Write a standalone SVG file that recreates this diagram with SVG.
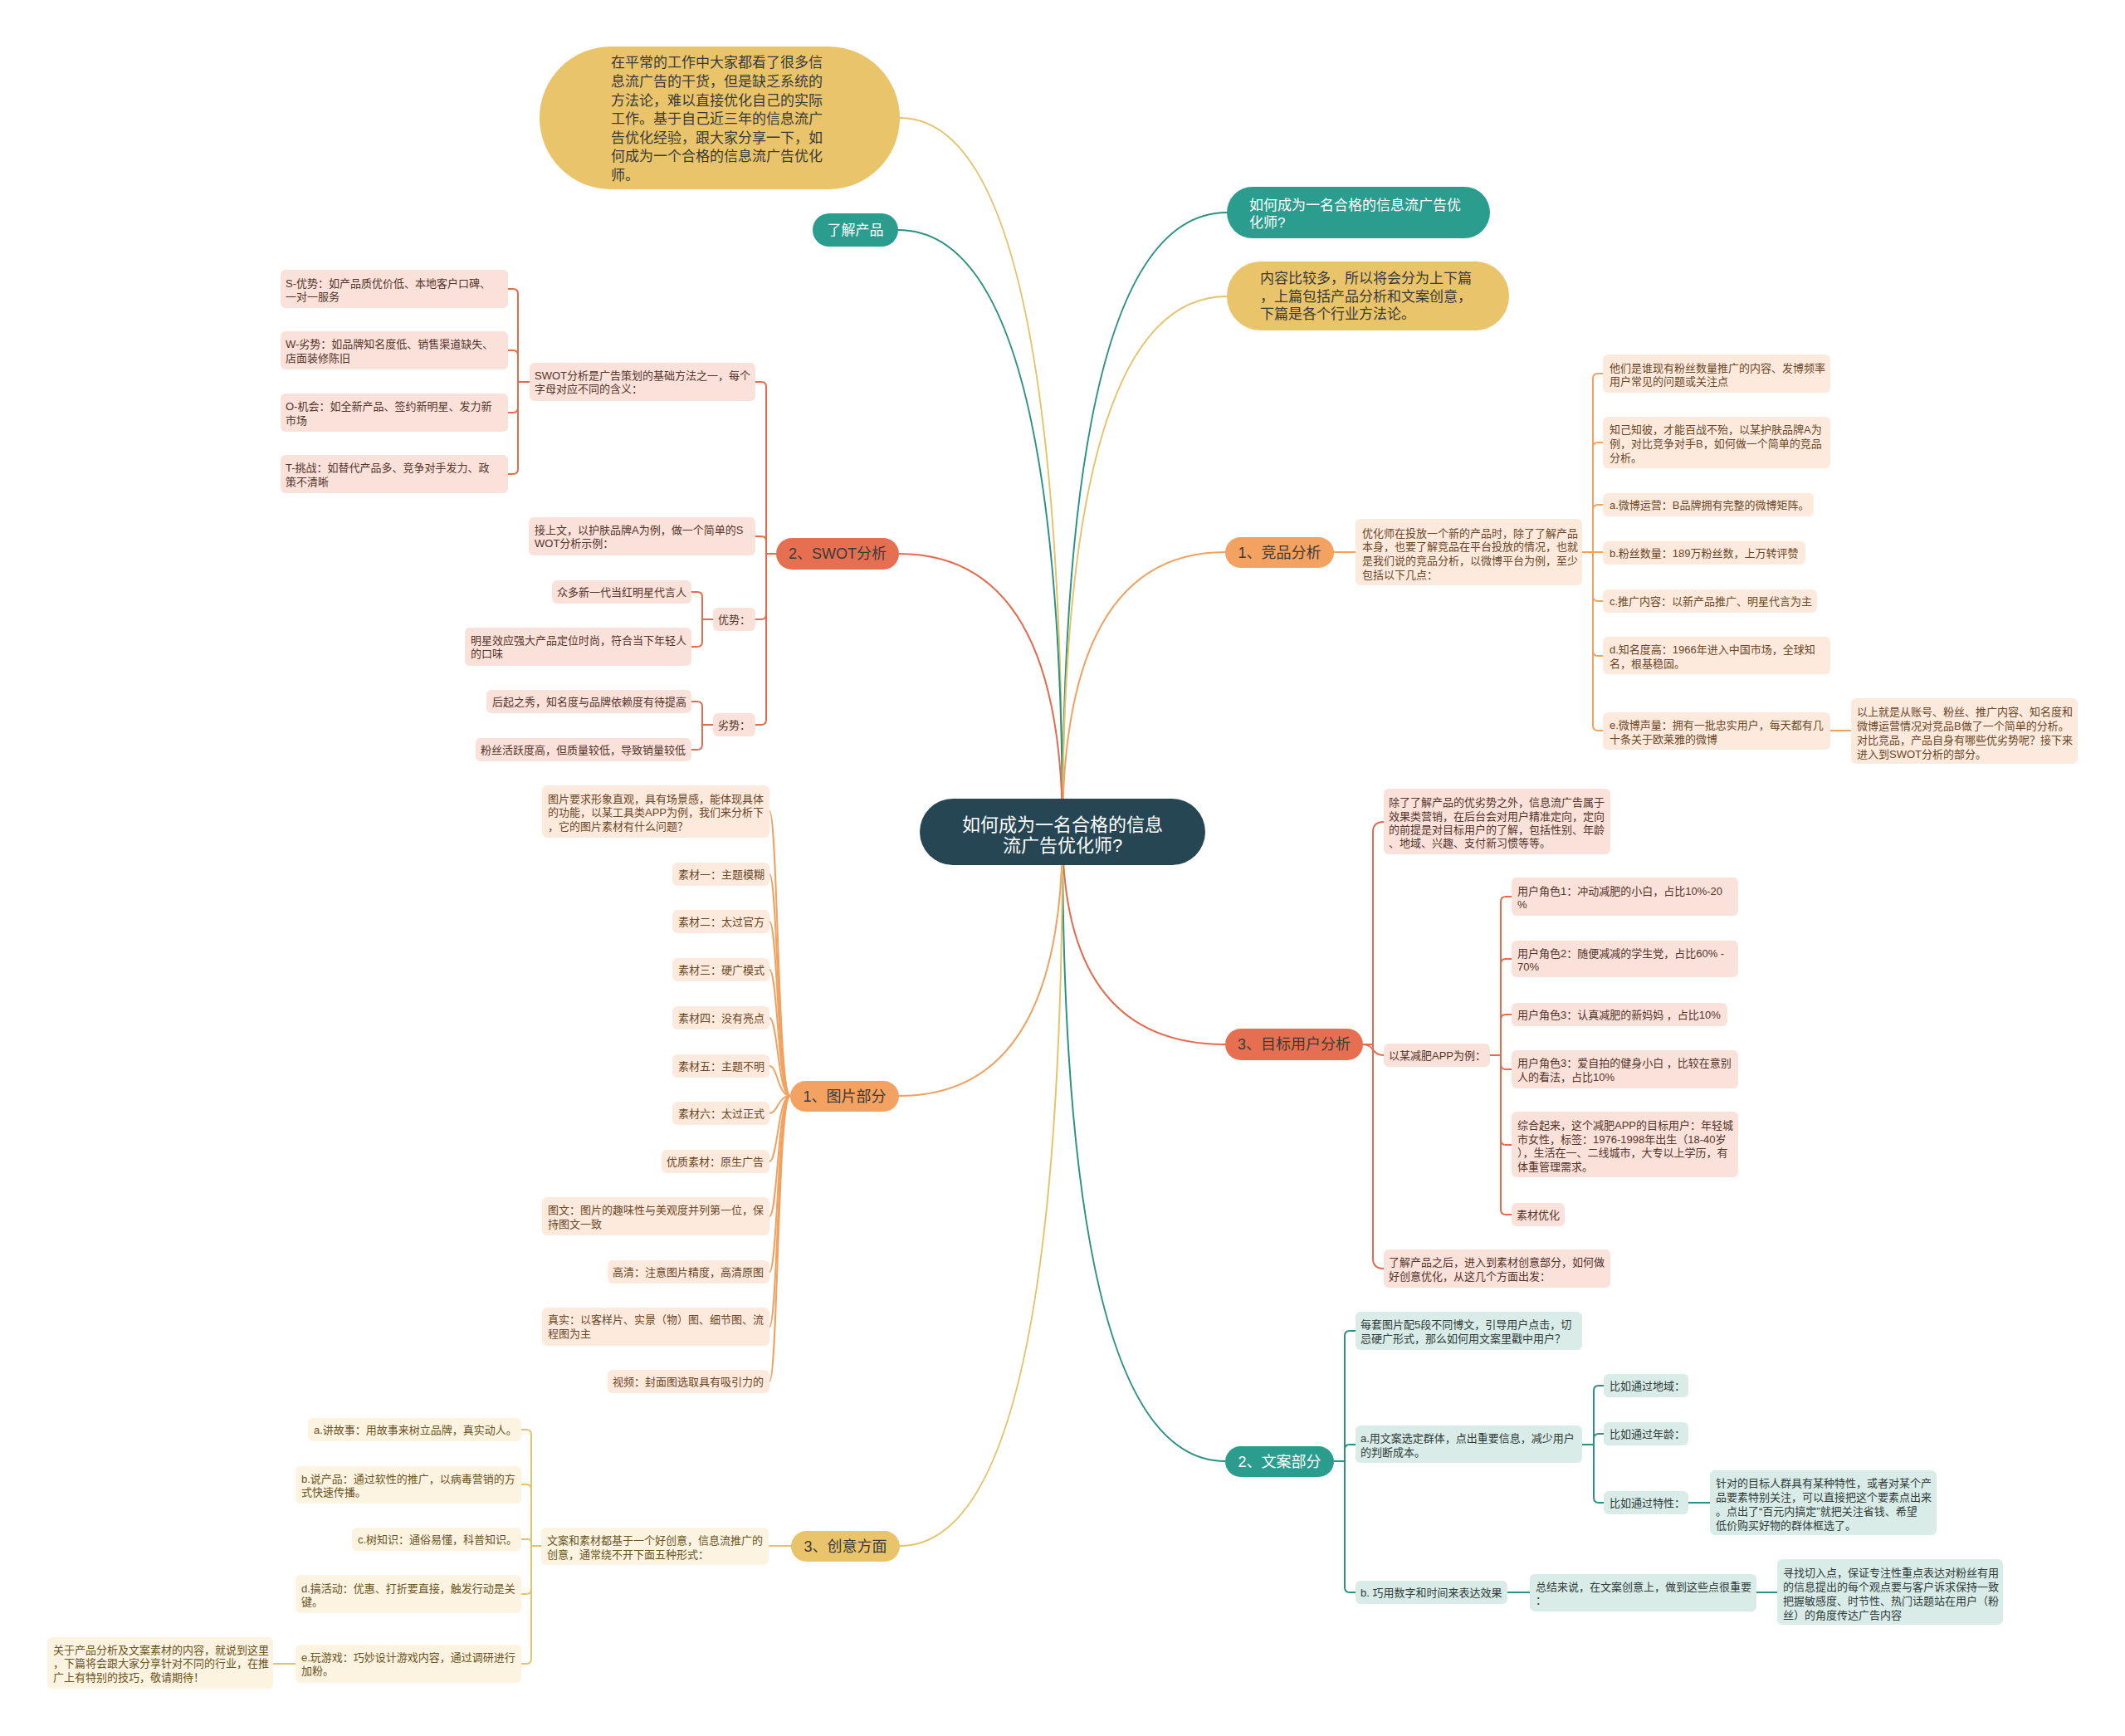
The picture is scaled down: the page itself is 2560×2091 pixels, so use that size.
<svg xmlns="http://www.w3.org/2000/svg" width="2560" height="2091" viewBox="0 0 2560 2091">
<style>
text{font-family:"Liberation Sans","Noto Sans CJK SC",sans-serif;dominant-baseline:central}
.s13{font-size:13px}
.s17{font-size:17px}
.s18{font-size:18px}
.s22{font-size:22px}
.mid{text-anchor:middle}
.ln{fill:none;stroke-width:2;stroke-linecap:round;stroke-linejoin:round}
.lc{stroke:#e36c4f}.lo{stroke:#f0a261}.ly{stroke:#e6c36a}.lt{stroke:#2a9283}
.sc{fill:#fae2db}.so{fill:#fdeadd}.sy{fill:#fcf3e0}.st{fill:#d9ece8}
.tc{fill:#55342a}.to{fill:#6b4727}.ty{fill:#6a5424}.tt{fill:#303b39}
.dk{fill:#3a3a3a}.wh{fill:#ffffff}
.mc{fill:#e76f51}.mo{fill:#f4a261}.my{fill:#e9c46a}.mt{fill:#2a9d8f}
</style>
<rect width="2560" height="2091" fill="#ffffff"/>
<g id="connectors">
<path class="ln ly" d="M1280 1002 Q1280 142 1084 142"/>
<path class="ln lt" d="M1280 1002 Q1280 277 1082 277"/>
<path class="ln lt" d="M1280 1002 Q1280 256 1478 256"/>
<path class="ln ly" d="M1280 1002 Q1280 357 1478 357"/>
<path class="ln lc" d="M1280 1002 Q1280 667 1083 667"/>
<path class="ln lo" d="M1280 1002 Q1280 665 1476 665"/>
<path class="ln lc" d="M1280 1002 Q1280 1258 1476 1258"/>
<path class="ln lo" d="M1280 1002 Q1280 1320 1083 1320"/>
<path class="ln lt" d="M1280 1002 Q1280 1760 1476 1760"/>
<path class="ln ly" d="M1280 1002 Q1280 1862 1084 1862"/>
<g class="ln lc">
<path d="M935 667 H923 V466 Q923 460 917 460 H910"/>
<path d="M935 667 H923 V652 Q923 646 917 646 H910"/>
<path d="M935 667 H923 V740 Q923 746 917 746 H910"/>
<path d="M935 667 H923 V867 Q923 873 917 873 H910"/>
<path d="M638 460 H624 V354 Q624 348 618 348 H612"/>
<path d="M638 460 H624 V428 Q624 422 618 422 H612"/>
<path d="M638 460 H624 V491 Q624 497 618 497 H612"/>
<path d="M638 460 H624 V565 Q624 571 618 571 H612"/>
<path d="M859 746 H846 V719 Q846 713 840 713 H833"/>
<path d="M859 746 H846 V773 Q846 779 840 779 H833"/>
<path d="M859 873 H846 V851 Q846 845 840 845 H833"/>
<path d="M859 873 H846 V897 Q846 903 840 903 H833"/>
<path d="M1642 1258 H1654 V1002 Q1654 990 1667 990"/>
<path d="M1642 1258 C1656 1258 1652 1271 1667 1271"/>
<path d="M1642 1258 H1654 V1516 Q1654 1528 1667 1528"/>
<path d="M1795 1271 H1808 V1086 Q1808 1080 1814 1080 H1821"/>
<path d="M1795 1271 H1808 V1161 Q1808 1155 1814 1155 H1821"/>
<path d="M1795 1271 H1808 V1228 Q1808 1222 1814 1222 H1821"/>
<path d="M1795 1271 H1808 V1282 Q1808 1288 1814 1288 H1821"/>
<path d="M1795 1271 H1808 V1373 Q1808 1379 1814 1379 H1821"/>
<path d="M1795 1271 H1808 V1457 Q1808 1463 1814 1463 H1821"/>
</g>
<g class="ln lo">
<path d="M952 1320 C937 1320 937 977 927 977"/>
<path d="M952 1320 C937 1320 937 1053 927 1053"/>
<path d="M952 1320 C937 1320 937 1110 927 1110"/>
<path d="M952 1320 C937 1320 937 1168 927 1168"/>
<path d="M952 1320 C937 1320 937 1226 927 1226"/>
<path d="M952 1320 C937 1320 937 1284 927 1284"/>
<path d="M952 1320 C937 1320 937 1341 927 1341"/>
<path d="M952 1320 C937 1320 937 1399 927 1399"/>
<path d="M952 1320 C937 1320 937 1465 927 1465"/>
<path d="M952 1320 C937 1320 937 1532 927 1532"/>
<path d="M952 1320 C937 1320 937 1598 927 1598"/>
<path d="M952 1320 C937 1320 937 1664 927 1664"/>
<path d="M1607 665 H1633"/>
<path d="M1906 665 H1919 V456 Q1919 450 1925 450 H1931"/>
<path d="M1906 665 H1919 V539 Q1919 533 1925 533 H1931"/>
<path d="M1906 665 H1919 V614 Q1919 608 1925 608 H1931"/>
<path d="M1906 665 H1931"/>
<path d="M1906 665 H1919 V718 Q1919 724 1925 724 H1931"/>
<path d="M1906 665 H1919 V784 Q1919 790 1925 790 H1931"/>
<path d="M1906 665 H1919 V874 Q1919 880 1925 880 H1931"/>
<path d="M2205 880 H2230"/>
</g>
<g class="ln ly">
<path d="M953 1862 H926"/>
<path d="M652 1862 H640 V1728 Q640 1722 634 1722 H628"/>
<path d="M652 1862 H640 V1794 Q640 1788 634 1788 H628"/>
<path d="M652 1862 H640 V1858 Q640 1854 636 1854 H628"/>
<path d="M652 1862 H640 V1914 Q640 1920 634 1920 H628"/>
<path d="M652 1862 H640 V1998 Q640 2004 634 2004 H628"/>
<path d="M356 2004 H329"/>
</g>
<g class="ln lt">
<path d="M1607 1760 H1620 V1609 Q1620 1603 1626 1603 H1633"/>
<path d="M1607 1760 H1620 V1746 Q1620 1740 1626 1740 H1633"/>
<path d="M1607 1760 H1620 V1912 Q1620 1918 1626 1918 H1633"/>
<path d="M1906 1740 H1920 V1675 Q1920 1669 1926 1669 H1932"/>
<path d="M1906 1740 H1920 V1733 Q1920 1727 1926 1727 H1932"/>
<path d="M1906 1740 H1920 V1804 Q1920 1810 1926 1810 H1932"/>
<path d="M2034 1810 H2060"/>
<path d="M1816 1918 H1843"/>
<path d="M2116 1918 H2141"/>
</g>
</g>

<g id="root"><rect x="1108" y="962" width="344" height="80" rx="40" fill="#264653"/>
<text class="s22 wh mid"><tspan x="1280" y="993">如何成为一名合格的信息</tspan><tspan x="1280" y="1018">流广告优化师?</tspan></text></g>

<g id="intro"><rect x="650" y="56" width="434" height="172" rx="86" class="my"/>
<text class="s17 dk"><tspan x="736" y="75">在平常的工作中大家都看了很多信</tspan><tspan x="736" y="98">息流广告的干货，但是缺乏系统的</tspan><tspan x="736" y="121">方法论，难以直接优化自己的实际</tspan><tspan x="736" y="143">工作。基于自己近三年的信息流广</tspan><tspan x="736" y="166">告优化经验，跟大家分享一下，如</tspan><tspan x="736" y="188">何成为一个合格的信息流广告优化</tspan><tspan x="736" y="211">师。</tspan></text></g>
<g id="know-product"><rect x="979" y="257" width="103" height="40" rx="20" class="mt"/><text class="s17 wh mid" x="1030.5" y="277">了解产品</text></g>
<g id="title-right"><rect x="1478" y="225" width="317" height="62" rx="31" class="mt"/>
<text class="s17 wh"><tspan x="1505" y="247">如何成为一名合格的信息流广告优</tspan><tspan x="1505" y="268">化师?</tspan></text></g>
<g id="content-note"><rect x="1478" y="315" width="340" height="83" rx="41" class="my"/>
<text class="s17 dk"><tspan x="1518" y="335">内容比较多，所以将会分为上下篇</tspan><tspan x="1518" y="357">，上篇包括产品分析和文案创意，</tspan><tspan x="1518" y="378">下篇是各个行业方法论。</tspan></text></g>

<g id="b-swot"><rect x="935" y="648" width="148" height="38" rx="19" class="mc"/><text class="s18 dk mid" x="1009" y="667">2、SWOT分析</text></g>
<g id="b-image"><rect x="952" y="1302" width="131" height="37" rx="18.5" class="mo"/><text class="s18 dk mid" x="1017.5" y="1320.5">1、图片部分</text></g>
<g id="b-idea"><rect x="953" y="1844" width="131" height="37" rx="18.5" class="my"/><text class="s18 dk mid" x="1018.5" y="1862.5">3、创意方面</text></g>
<g id="b-compete"><rect x="1476" y="647" width="131" height="37" rx="18.5" class="mo"/><text class="s18 dk mid" x="1541.5" y="665.5">1、竞品分析</text></g>
<g id="b-user"><rect x="1476" y="1239" width="166" height="38" rx="19" class="mc"/><text class="s18 dk mid" x="1559" y="1258">3、目标用户分析</text></g>
<g id="b-copy"><rect x="1476" y="1742" width="131" height="37" rx="18.5" class="mt"/><text class="s18 wh mid" x="1541.5" y="1760.5">2、文案部分</text></g>

<g id="swot-s"><rect x="338" y="325" width="274" height="46" rx="6" class="sc"/><text class="s13 tc"><tspan x="344" y="341">S-优势：如产品质优价低、本地客户口碑、</tspan><tspan x="344" y="357">一对一服务</tspan></text></g>
<g id="swot-w"><rect x="338" y="399" width="274" height="46" rx="6" class="sc"/><text class="s13 tc"><tspan x="344" y="414">W-劣势：如品牌知名度低、销售渠道缺失、</tspan><tspan x="344" y="431">店面装修陈旧</tspan></text></g>
<g id="swot-o"><rect x="338" y="474" width="274" height="46" rx="6" class="sc"/><text class="s13 tc"><tspan x="344" y="489">O-机会：如全新产品、签约新明星、发力新</tspan><tspan x="344" y="506">市场</tspan></text></g>
<g id="swot-t"><rect x="338" y="548" width="274" height="46" rx="6" class="sc"/><text class="s13 tc"><tspan x="344" y="563">T-挑战：如替代产品多、竞争对手发力、政</tspan><tspan x="344" y="580">策不清晰</tspan></text></g>
<g id="swot-def"><rect x="638" y="437" width="272" height="46" rx="6" class="sc"/><text class="s13 tc"><tspan x="644" y="452">SWOT分析是广告策划的基础方法之一，每个</tspan><tspan x="644" y="468">字母对应不同的含义：</tspan></text></g>
<g id="swot-example"><rect x="637" y="623" width="273" height="46" rx="6" class="sc"/><text class="s13 tc"><tspan x="644" y="638">接上文，以护肤品牌A为例，做一个简单的S</tspan><tspan x="644" y="654">WOT分析示例：</tspan></text></g>
<g id="swot-adv"><rect x="859" y="732" width="51" height="28" rx="6" class="sc"/><text class="s13 tc" x="865" y="746">优势：</text></g>
<g id="swot-dis"><rect x="859" y="859" width="51" height="28" rx="6" class="sc"/><text class="s13 tc" x="865" y="873">劣势：</text></g>
<g id="adv-1"><rect x="665" y="699" width="168" height="28" rx="6" class="sc"/><text class="s13 tc" x="671" y="713">众多新一代当红明星代言人</text></g>
<g id="adv-2"><rect x="560" y="756" width="273" height="46" rx="6" class="sc"/><text class="s13 tc"><tspan x="567" y="771">明星效应强大产品定位时尚，符合当下年轻人</tspan><tspan x="567" y="787">的口味</tspan></text></g>
<g id="dis-1"><rect x="586" y="831" width="247" height="28" rx="6" class="sc"/><text class="s13 tc" x="593" y="845">后起之秀，知名度与品牌依赖度有待提高</text></g>
<g id="dis-2"><rect x="573" y="889" width="260" height="28" rx="6" class="sc"/><text class="s13 tc" x="579" y="903">粉丝活跃度高，但质量较低，导致销量较低</text></g>

<g id="img-intro"><rect x="653" y="946" width="274" height="63" rx="6" class="so"/><text class="s13 to"><tspan x="660" y="962">图片要求形象直观，具有场景感，能体现具体</tspan><tspan x="660" y="978">的功能，以某工具类APP为例，我们来分析下</tspan><tspan x="660" y="995">，它的图片素材有什么问题？</tspan></text></g>
<g id="img-1"><rect x="810" y="1039" width="117" height="28" rx="6" class="so"/><text class="s13 to" x="817" y="1053">素材一：主题模糊</text></g>
<g id="img-2"><rect x="810" y="1096" width="117" height="28" rx="6" class="so"/><text class="s13 to" x="817" y="1110">素材二：太过官方</text></g>
<g id="img-3"><rect x="810" y="1154" width="117" height="28" rx="6" class="so"/><text class="s13 to" x="817" y="1168">素材三：硬广模式</text></g>
<g id="img-4"><rect x="810" y="1212" width="117" height="28" rx="6" class="so"/><text class="s13 to" x="817" y="1226">素材四：没有亮点</text></g>
<g id="img-5"><rect x="810" y="1270" width="117" height="28" rx="6" class="so"/><text class="s13 to" x="817" y="1284">素材五：主题不明</text></g>
<g id="img-6"><rect x="810" y="1327" width="117" height="28" rx="6" class="so"/><text class="s13 to" x="817" y="1341">素材六：太过正式</text></g>
<g id="img-7"><rect x="797" y="1385" width="130" height="28" rx="6" class="so"/><text class="s13 to" x="803" y="1399">优质素材：原生广告</text></g>
<g id="img-8"><rect x="653" y="1442" width="274" height="46" rx="6" class="so"/><text class="s13 to"><tspan x="660" y="1457">图文：图片的趣味性与美观度并列第一位，保</tspan><tspan x="660" y="1474">持图文一致</tspan></text></g>
<g id="img-9"><rect x="732" y="1518" width="195" height="28" rx="6" class="so"/><text class="s13 to" x="738" y="1532">高清：注意图片精度，高清原图</text></g>
<g id="img-10"><rect x="653" y="1575" width="274" height="46" rx="6" class="so"/><text class="s13 to"><tspan x="660" y="1589">真实：以客样片、实景（物）图、细节图、流</tspan><tspan x="660" y="1606">程图为主</tspan></text></g>
<g id="img-11"><rect x="732" y="1650" width="195" height="28" rx="6" class="so"/><text class="s13 to" x="738" y="1664">视频：封面图选取具有吸引力的</text></g>

<g id="idea-intro"><rect x="652" y="1840" width="274" height="45" rx="6" class="sy"/><text class="s13 ty"><tspan x="659" y="1855">文案和素材都基于一个好创意，信息流推广的</tspan><tspan x="659" y="1872">创意，通常绕不开下面五种形式：</tspan></text></g>
<g id="idea-a"><rect x="371" y="1708" width="257" height="28" rx="6" class="sy"/><text class="s13 ty" x="378" y="1722">a.讲故事：用故事来树立品牌，真实动人。</text></g>
<g id="idea-b"><rect x="356" y="1766" width="272" height="45" rx="6" class="sy"/><text class="s13 ty"><tspan x="363" y="1781">b.说产品：通过软性的推广，以病毒营销的方</tspan><tspan x="363" y="1797">式快速传播。</tspan></text></g>
<g id="idea-c"><rect x="424" y="1840" width="204" height="28" rx="6" class="sy"/><text class="s13 ty" x="431" y="1854">c.树知识：通俗易懂，科普知识。</text></g>
<g id="idea-d"><rect x="356" y="1897" width="272" height="46" rx="6" class="sy"/><text class="s13 ty"><tspan x="363" y="1913">d.搞活动：优惠、打折要直接，触发行动是关</tspan><tspan x="363" y="1929">键。</tspan></text></g>
<g id="idea-e"><rect x="356" y="1981" width="272" height="46" rx="6" class="sy"/><text class="s13 ty"><tspan x="363" y="1996">e.玩游戏：巧妙设计游戏内容，通过调研进行</tspan><tspan x="363" y="2012">加粉。</tspan></text></g>
<g id="idea-end"><rect x="57" y="1972" width="272" height="62" rx="6" class="sy"/><text class="s13 ty"><tspan x="64" y="1987">关于产品分析及文案素材的内容，就说到这里</tspan><tspan x="64" y="2003">，下篇将会跟大家分享针对不同的行业，在推</tspan><tspan x="64" y="2020">广上有特别的技巧，敬请期待！</tspan></text></g>

<g id="cmp-intro"><rect x="1633" y="625" width="273" height="80" rx="6" class="so"/><text class="s13 to"><tspan x="1641" y="642">优化师在投放一个新的产品时，除了了解产品</tspan><tspan x="1641" y="658">本身，也要了解竞品在平台投放的情况，也就</tspan><tspan x="1641" y="675">是我们说的竞品分析，以微博平台为例，至少</tspan><tspan x="1641" y="692">包括以下几点：</tspan></text></g>
<g id="cmp-1"><rect x="1931" y="427" width="274" height="46" rx="6" class="so"/><text class="s13 to"><tspan x="1939" y="443">他们是谁现有粉丝数量推广的内容、发博频率</tspan><tspan x="1939" y="459">用户常见的问题或关注点</tspan></text></g>
<g id="cmp-2"><rect x="1931" y="502" width="274" height="62" rx="6" class="so"/><text class="s13 to"><tspan x="1939" y="517">知己知彼，才能百战不殆，以某护肤品牌A为</tspan><tspan x="1939" y="534">例，对比竞争对手B，如何做一个简单的竞品</tspan><tspan x="1939" y="551">分析。</tspan></text></g>
<g id="cmp-a"><rect x="1931" y="594" width="254" height="28" rx="6" class="so"/><text class="s13 to" x="1939" y="608">a.微博运营：B品牌拥有完整的微博矩阵。</text></g>
<g id="cmp-b"><rect x="1931" y="652" width="244" height="28" rx="6" class="so"/><text class="s13 to" x="1939" y="666">b.粉丝数量：189万粉丝数，上万转评赞</text></g>
<g id="cmp-c"><rect x="1931" y="710" width="258" height="28" rx="6" class="so"/><text class="s13 to" x="1939" y="724">c.推广内容：以新产品推广、明星代言为主</text></g>
<g id="cmp-d"><rect x="1931" y="767" width="274" height="45" rx="6" class="so"/><text class="s13 to"><tspan x="1939" y="782">d.知名度高：1966年进入中国市场，全球知</tspan><tspan x="1939" y="799">名，根基稳固。</tspan></text></g>
<g id="cmp-e"><rect x="1931" y="858" width="274" height="45" rx="6" class="so"/><text class="s13 to"><tspan x="1939" y="873">e.微博声量：拥有一批忠实用户，每天都有几</tspan><tspan x="1939" y="890">十条关于欧莱雅的微博</tspan></text></g>
<g id="cmp-sum"><rect x="2230" y="841" width="273" height="79" rx="6" class="so"/><text class="s13 to"><tspan x="2237" y="857">以上就是从账号、粉丝、推广内容、知名度和</tspan><tspan x="2237" y="874">微博运营情况对竞品B做了一个简单的分析。</tspan><tspan x="2237" y="891">对比竞品，产品自身有哪些优劣势呢？接下来</tspan><tspan x="2237" y="908">进入到SWOT分析的部分。</tspan></text></g>

<g id="usr-intro"><rect x="1667" y="950" width="273" height="79" rx="6" class="sc"/><text class="s13 tc"><tspan x="1673" y="966">除了了解产品的优劣势之外，信息流广告属于</tspan><tspan x="1673" y="983">效果类营销，在后台会对用户精准定向，定向</tspan><tspan x="1673" y="999">的前提是对目标用户的了解，包括性别、年龄</tspan><tspan x="1673" y="1015">、地域、兴趣、支付新习惯等等。</tspan></text></g>
<g id="usr-app"><rect x="1667" y="1257" width="128" height="28" rx="6" class="sc"/><text class="s13 tc" x="1673" y="1271">以某减肥APP为例：</text></g>
<g id="usr-1"><rect x="1821" y="1057" width="273" height="46" rx="6" class="sc"/><text class="s13 tc"><tspan x="1828" y="1073">用户角色1：冲动减肥的小白，占比10%-20</tspan><tspan x="1828" y="1089">%</tspan></text></g>
<g id="usr-2"><rect x="1821" y="1133" width="273" height="44" rx="6" class="sc"/><text class="s13 tc"><tspan x="1828" y="1148">用户角色2：随便减减的学生党，占比60% -</tspan><tspan x="1828" y="1164">70%</tspan></text></g>
<g id="usr-3"><rect x="1821" y="1208" width="260" height="28" rx="6" class="sc"/><text class="s13 tc" x="1828" y="1222">用户角色3：认真减肥的新妈妈 ，占比10%</text></g>
<g id="usr-4"><rect x="1821" y="1265" width="273" height="46" rx="6" class="sc"/><text class="s13 tc"><tspan x="1828" y="1280">用户角色3：爱自拍的健身小白 ，比较在意别</tspan><tspan x="1828" y="1297">人的看法，占比10%</tspan></text></g>
<g id="usr-5"><rect x="1821" y="1339" width="273" height="79" rx="6" class="sc"/><text class="s13 tc"><tspan x="1828" y="1355">综合起来，这个减肥APP的目标用户：年轻城</tspan><tspan x="1828" y="1372">市女性，标签：1976-1998年出生（18-40岁</tspan><tspan x="1828" y="1388">），生活在一、二线城市，大专以上学历，有</tspan><tspan x="1828" y="1405">体重管理需求。</tspan></text></g>
<g id="usr-6"><rect x="1821" y="1449" width="64" height="28" rx="6" class="sc"/><text class="s13 tc" x="1827" y="1463">素材优化</text></g>
<g id="usr-next"><rect x="1667" y="1505" width="273" height="46" rx="6" class="sc"/><text class="s13 tc"><tspan x="1673" y="1520">了解产品之后，进入到素材创意部分，如何做</tspan><tspan x="1673" y="1537">好创意优化，从这几个方面出发：</tspan></text></g>

<g id="copy-intro"><rect x="1633" y="1580" width="273" height="46" rx="6" class="st"/><text class="s13 tt"><tspan x="1639" y="1595">每套图片配5段不同博文，引导用户点击，切</tspan><tspan x="1639" y="1612">忌硬广形式，那么如何用文案里戳中用户？</tspan></text></g>
<g id="copy-a"><rect x="1633" y="1717" width="273" height="45" rx="6" class="st"/><text class="s13 tt"><tspan x="1639" y="1732">a.用文案选定群体，点出重要信息，减少用户</tspan><tspan x="1639" y="1749">的判断成本。</tspan></text></g>
<g id="copy-b"><rect x="1633" y="1904" width="183" height="28" rx="6" class="st"/><text class="s13 tt" x="1639" y="1918">b. 巧用数字和时间来表达效果</text></g>
<g id="copy-a1"><rect x="1932" y="1655" width="102" height="28" rx="6" class="st"/><text class="s13 tt" x="1939" y="1669">比如通过地域：</text></g>
<g id="copy-a2"><rect x="1932" y="1713" width="102" height="28" rx="6" class="st"/><text class="s13 tt" x="1939" y="1727">比如通过年龄：</text></g>
<g id="copy-a3"><rect x="1932" y="1796" width="102" height="28" rx="6" class="st"/><text class="s13 tt" x="1939" y="1810">比如通过特性：</text></g>
<g id="copy-a3-detail"><rect x="2060" y="1771" width="273" height="78" rx="6" class="st"/><text class="s13 tt"><tspan x="2067" y="1786">针对的目标人群具有某种特性，或者对某个产</tspan><tspan x="2067" y="1803">品要素特别关注，可以直接把这个要素点出来</tspan><tspan x="2067" y="1820">。点出了“百元内搞定”就把关注省钱、希望</tspan><tspan x="2067" y="1837">低价购买好物的群体框选了。</tspan></text></g>
<g id="copy-sum"><rect x="1843" y="1896" width="273" height="45" rx="6" class="st"/><text class="s13 tt"><tspan x="1850" y="1911">总结来说，在文案创意上，做到这些点很重要</tspan><tspan x="1850" y="1927">：</tspan></text></g>
<g id="copy-tips"><rect x="2141" y="1878" width="272" height="79" rx="6" class="st"/><text class="s13 tt"><tspan x="2148" y="1894">寻找切入点，保证专注性重点表达对粉丝有用</tspan><tspan x="2148" y="1911">的信息提出的每个观点要与客户诉求保持一致</tspan><tspan x="2148" y="1928">把握敏感度、时节性、热门话题站在用户（粉</tspan><tspan x="2148" y="1945">丝）的角度传达广告内容</tspan></text></g>
</svg>
